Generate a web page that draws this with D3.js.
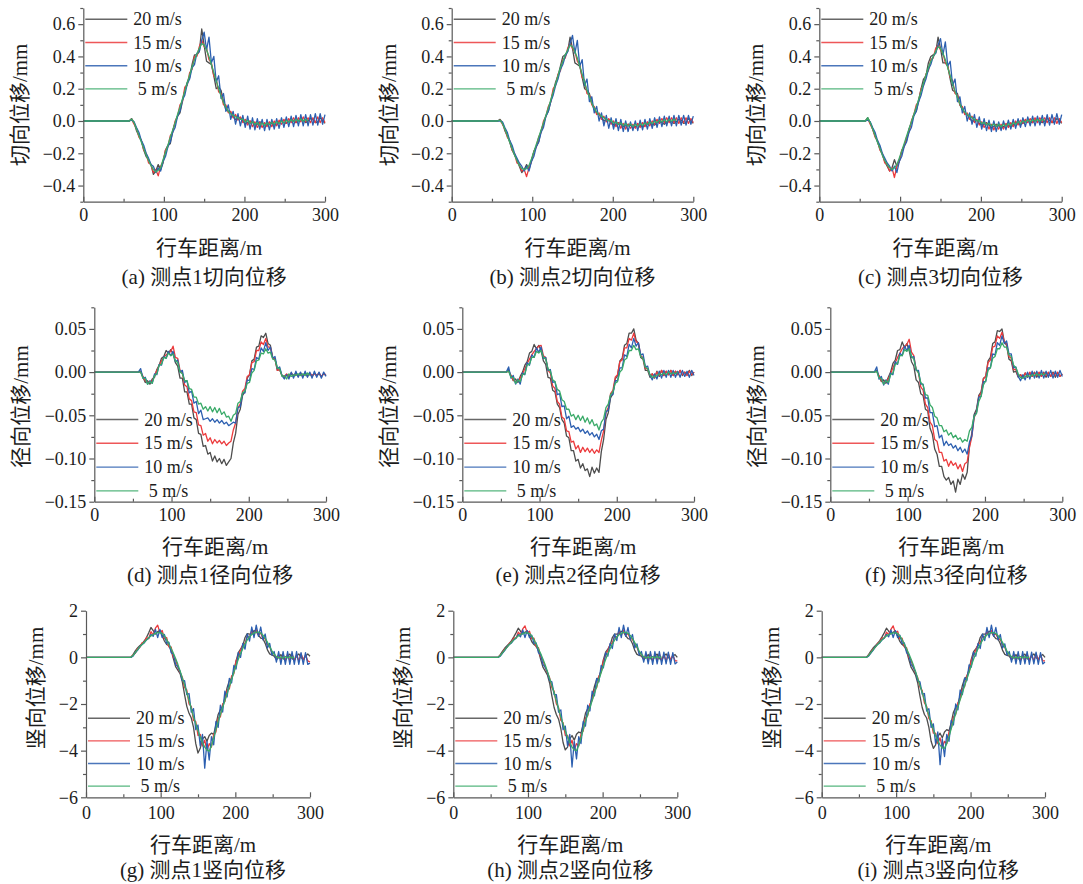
<!DOCTYPE html>
<html><head><meta charset="utf-8">
<script src="https://cdn.jsdelivr.net/npm/d3@7"></script>
<style>
body{margin:0;background:#fff;}
svg text{font-family:"Liberation Serif","Times New Roman","Noto Sans CJK SC",serif;fill:#1c1c1c;}
.tk text{font-size:18px;}
.lg{font-size:18px;white-space:pre;}
.ttl{font-size:21px;}
</style></head><body>
<svg id="c" width="1083" height="884"></svg>
<script>
// ---------------- data ----------------
const xs = [0,57,60,63,66,69,72,75,78,81,84,87,90,93,96,99,102,105,108,111,114,117,120,123,126,129,132,135,138,141,144,147,150,153,156,159,162,165,168,171,174,177,180,183,186,189,192,195,198,201,204,207,210,213,216,219,222,225,228,231,234,237,240,243,246,249,252,255,258,261,264,267,270,273,276,279,282,285,288,291,294,297,300];
const speeds = ["20 m/s","15 m/s","10 m/s"," 5 m/s"];
const xTicks = [0,100,200,300];
const xMinor = [50,150,250];
const tanTicks = [-0.4,-0.2,0,0.2,0.4,0.6];
const tanMinor = [-0.5,-0.3,-0.1,0.1,0.3,0.5,0.7];
const radTicks = [-0.15,-0.10,-0.05,0,0.05];
const radMinor = [-0.125,-0.075,-0.025,0.025,0.075];
const verTicks = [-6,-4,-2,0,2];
const verMinor = [-5,-3,-1,1];
const yTitles = ["切向位移/mm","径向位移/mm","竖向位移/mm"];
const xTitle = "行车距离/m";
const captions = ["(a) 测点1切向位移","(b) 测点2切向位移","(c) 测点3切向位移","(d) 测点1径向位移","(e) 测点2径向位移","(f) 测点3径向位移","(g) 测点1竖向位移","(h) 测点2竖向位移","(i) 测点3竖向位移"];

// (a) tangential, point 1
const a20 = [0,0,0.015,-0.01,-0.06,-0.09,-0.12,-0.18,-0.22,-0.24,-0.27,-0.33,-0.31,-0.27,-0.30,-0.26,-0.18,-0.15,-0.14,-0.06,-0.01,0.03,0.05,0.12,0.19,0.24,0.27,0.35,0.41,0.41,0.43,0.57,0.47,0.37,0.36,0.35,0.28,0.20,0.21,0.19,0.12,0.07,0.06,0.05,0.025,0.01,0.015,0.02,0.0,-0.015,-0.01,0.0,-0.01,-0.025,-0.02,-0.005,-0.01,-0.03,-0.025,-0.01,-0.015,-0.025,-0.02,-0.005,0.0,-0.01,-0.015,0.0,0.01,0.0,-0.01,0.005,0.015,0.005,-0.01,0.0,0.015,0.01,-0.01,-0.005,0.02,0.005,-0.015];
const a15 = [0,0,0.01,-0.02,-0.045,-0.10,-0.12,-0.18,-0.20,-0.26,-0.27,-0.32,-0.30,-0.34,-0.28,-0.25,-0.18,-0.16,-0.09,-0.07,0.0,0.03,0.10,0.12,0.21,0.22,0.30,0.32,0.40,0.40,0.46,0.50,0.46,0.45,0.38,0.36,0.28,0.26,0.18,0.17,0.10,0.10,0.05,0.06,0.02,0.04,0.005,0.025,-0.01,0.01,-0.025,0.0,-0.035,-0.005,-0.04,-0.01,-0.04,-0.01,-0.035,-0.005,-0.035,0.0,-0.03,0.005,-0.02,0.01,-0.015,0.015,-0.01,0.02,-0.01,0.02,-0.005,0.025,-0.005,0.02,-0.01,0.02,-0.01,0.025,-0.01,0.02,-0.01];
const a10 = [0,0,0.005,-0.005,-0.04,-0.07,-0.12,-0.15,-0.20,-0.23,-0.27,-0.28,-0.32,-0.29,-0.31,-0.25,-0.22,-0.16,-0.13,-0.07,-0.04,0.03,0.06,0.13,0.16,0.23,0.26,0.33,0.35,0.42,0.43,0.50,0.55,0.44,0.52,0.36,0.40,0.24,0.28,0.14,0.17,0.06,0.10,0.01,0.06,-0.02,0.045,-0.03,0.035,-0.04,0.03,-0.05,0.02,-0.055,0.015,-0.05,0.01,-0.06,0.01,-0.055,0.01,-0.05,0.015,-0.045,0.02,-0.04,0.025,-0.035,0.03,-0.035,0.035,-0.03,0.04,-0.03,0.04,-0.03,0.04,-0.025,0.045,-0.025,0.045,-0.02,0.04];
const a05 = [0,0,0.012,-0.01,-0.05,-0.09,-0.13,-0.17,-0.21,-0.245,-0.275,-0.30,-0.315,-0.305,-0.29,-0.24,-0.195,-0.15,-0.10,-0.055,-0.01,0.04,0.085,0.135,0.185,0.235,0.285,0.335,0.38,0.415,0.45,0.48,0.47,0.44,0.40,0.35,0.30,0.25,0.20,0.155,0.115,0.085,0.06,0.045,0.035,0.025,0.02,0.01,0.012,-0.006,0.004,-0.016,-0.004,-0.022,-0.01,-0.026,-0.012,-0.028,-0.012,-0.024,-0.008,-0.02,-0.004,-0.016,0.0,-0.012,0.004,-0.008,0.008,-0.004,0.01,-0.002,0.012,-0.002,0.01,0.0];
// (b)
const b20 = [0,0,0.01,-0.01,-0.06,-0.09,-0.13,-0.18,-0.21,-0.24,-0.28,-0.32,-0.30,-0.27,-0.30,-0.25,-0.19,-0.16,-0.13,-0.06,-0.02,0.03,0.06,0.12,0.18,0.24,0.28,0.34,0.40,0.41,0.43,0.52,0.45,0.36,0.35,0.34,0.27,0.20,0.19,0.17,0.11,0.07,0.05,0.04,0.02,0.0,0.005,0.01,-0.01,-0.025,-0.02,-0.01,-0.02,-0.035,-0.03,-0.02,-0.025,-0.04,-0.035,-0.02,-0.025,-0.035,-0.03,-0.015,-0.01,-0.02,-0.025,-0.01,0.0,-0.01,-0.02,-0.005,0.005,-0.005,-0.015,-0.005,0.01,0.005,-0.015,-0.01,0.015,0.0,-0.015];
const b15 = [0,0,0.005,-0.02,-0.05,-0.10,-0.12,-0.18,-0.20,-0.26,-0.27,-0.31,-0.30,-0.345,-0.29,-0.25,-0.19,-0.16,-0.10,-0.07,0.0,0.03,0.09,0.12,0.20,0.22,0.29,0.31,0.38,0.39,0.45,0.48,0.45,0.43,0.37,0.35,0.27,0.25,0.17,0.16,0.10,0.09,0.04,0.05,0.01,0.03,-0.005,0.015,-0.02,0.0,-0.035,-0.01,-0.045,-0.015,-0.05,-0.02,-0.045,-0.02,-0.045,-0.015,-0.04,-0.01,-0.035,-0.005,-0.03,0.0,-0.02,0.01,-0.015,0.015,-0.01,0.02,-0.01,0.02,-0.01,0.02,-0.015,0.02,-0.01,0.02,-0.015,0.015,-0.01];
const b10 = [0,0,0.0,-0.005,-0.04,-0.07,-0.12,-0.15,-0.20,-0.23,-0.26,-0.28,-0.31,-0.28,-0.31,-0.25,-0.22,-0.16,-0.13,-0.07,-0.04,0.03,0.06,0.12,0.16,0.22,0.26,0.32,0.35,0.40,0.43,0.48,0.53,0.42,0.50,0.34,0.38,0.22,0.26,0.12,0.15,0.05,0.09,0.0,0.05,-0.03,0.035,-0.045,0.02,-0.05,0.015,-0.06,0.01,-0.065,0.0,-0.065,-0.005,-0.06,0.0,-0.06,0.005,-0.055,0.01,-0.05,0.015,-0.045,0.02,-0.04,0.025,-0.035,0.03,-0.03,0.03,-0.03,0.035,-0.03,0.035,-0.025,0.035,-0.025,0.035,-0.02,0.03];
const b05 = [0,0,0.005,-0.015,-0.05,-0.09,-0.13,-0.17,-0.21,-0.245,-0.275,-0.295,-0.30,-0.295,-0.275,-0.235,-0.19,-0.145,-0.10,-0.055,-0.01,0.035,0.08,0.13,0.18,0.23,0.28,0.33,0.37,0.41,0.44,0.47,0.46,0.43,0.39,0.34,0.29,0.24,0.19,0.15,0.11,0.08,0.055,0.04,0.03,0.02,0.01,0.0,0.004,-0.014,-0.006,-0.022,-0.012,-0.028,-0.016,-0.032,-0.018,-0.034,-0.02,-0.032,-0.016,-0.028,-0.012,-0.022,-0.006,-0.016,-0.002,-0.01,0.004,-0.006,0.008,-0.004,0.01,-0.002,0.01,0.0];
// (c)
const c20 = [0,0,0.02,-0.01,-0.05,-0.09,-0.13,-0.17,-0.21,-0.25,-0.28,-0.31,-0.29,-0.24,-0.28,-0.25,-0.19,-0.15,-0.12,-0.05,-0.01,0.04,0.06,0.13,0.20,0.26,0.28,0.36,0.40,0.41,0.42,0.52,0.45,0.36,0.36,0.34,0.26,0.19,0.18,0.17,0.10,0.07,0.05,0.04,0.015,0.0,0.0,0.005,-0.015,-0.025,-0.02,-0.01,-0.025,-0.04,-0.035,-0.02,-0.03,-0.045,-0.035,-0.02,-0.025,-0.035,-0.025,-0.01,-0.01,-0.02,-0.015,0.0,0.005,-0.005,-0.01,0.005,0.01,0.0,-0.01,0.0,0.015,0.005,-0.01,-0.005,0.015,0.005,-0.015];
const c15 = [0,0,0.015,-0.02,-0.05,-0.10,-0.12,-0.18,-0.20,-0.26,-0.27,-0.31,-0.29,-0.35,-0.28,-0.25,-0.18,-0.16,-0.10,-0.07,0.0,0.04,0.10,0.12,0.20,0.22,0.29,0.31,0.38,0.39,0.45,0.47,0.44,0.42,0.36,0.34,0.27,0.25,0.17,0.16,0.10,0.09,0.04,0.05,0.01,0.03,-0.01,0.01,-0.025,-0.005,-0.04,-0.015,-0.05,-0.02,-0.055,-0.025,-0.05,-0.02,-0.05,-0.015,-0.04,-0.01,-0.035,0.0,-0.025,0.005,-0.015,0.01,-0.01,0.015,-0.01,0.02,-0.01,0.02,-0.005,0.02,-0.01,0.02,-0.01,0.02,-0.015,0.015,-0.01];
const c10 = [0,0,0.005,-0.005,-0.04,-0.07,-0.12,-0.15,-0.20,-0.23,-0.26,-0.28,-0.31,-0.28,-0.32,-0.25,-0.22,-0.16,-0.13,-0.07,-0.04,0.03,0.06,0.12,0.16,0.22,0.26,0.32,0.35,0.40,0.42,0.47,0.51,0.41,0.49,0.34,0.37,0.22,0.26,0.12,0.15,0.05,0.09,0.0,0.05,-0.02,0.04,-0.04,0.025,-0.05,0.015,-0.06,0.005,-0.065,0.0,-0.065,-0.005,-0.06,0.0,-0.055,0.005,-0.05,0.01,-0.045,0.015,-0.04,0.02,-0.035,0.025,-0.03,0.03,-0.03,0.03,-0.025,0.035,-0.03,0.04,-0.025,0.04,-0.02,0.045,-0.02,0.04];
const c05 = [0,0,0.02,-0.01,-0.05,-0.09,-0.13,-0.17,-0.21,-0.245,-0.27,-0.29,-0.30,-0.29,-0.27,-0.23,-0.185,-0.14,-0.095,-0.05,-0.005,0.04,0.085,0.135,0.185,0.235,0.285,0.33,0.37,0.40,0.43,0.46,0.45,0.42,0.38,0.33,0.28,0.23,0.185,0.145,0.105,0.075,0.055,0.04,0.03,0.02,0.01,0.0,0.002,-0.016,-0.008,-0.024,-0.014,-0.03,-0.018,-0.034,-0.02,-0.036,-0.02,-0.032,-0.016,-0.028,-0.01,-0.02,-0.004,-0.014,0.0,-0.008,0.006,-0.004,0.008,-0.002,0.01,0.0,0.01,0.002];
// (d) radial, point 1
const d20 = [0,0,0.001,-0.006,-0.012,-0.01,-0.014,-0.008,-0.006,0.003,0.008,0.016,0.018,0.025,0.022,0.026,0.021,0.011,0.007,-0.007,-0.007,-0.023,-0.023,-0.037,-0.037,-0.053,-0.055,-0.071,-0.072,-0.086,-0.085,-0.095,-0.093,-0.103,-0.097,-0.104,-0.1,-0.106,-0.101,-0.108,-0.104,-0.1,-0.082,-0.071,-0.049,-0.043,-0.027,-0.023,-0.007,-0.003,0.013,0.015,0.029,0.03,0.042,0.04,0.045,0.033,0.031,0.017,0.015,0.002,0.003,-0.004,-0.006,-0.003,-0.006,-0.002,-0.005,-0.001,-0.004,-0.002,-0.005,-0.001,-0.004,-0.002,-0.005,-0.001,-0.004,-0.002,-0.005,-0.002,-0.004];
const d15 = [0,0,0.0,-0.005,-0.01,-0.012,-0.011,-0.01,-0.004,0.002,0.008,0.013,0.017,0.02,0.022,0.024,0.03,0.017,0.016,0.002,-0.001,-0.015,-0.017,-0.031,-0.033,-0.046,-0.047,-0.061,-0.062,-0.073,-0.071,-0.08,-0.076,-0.083,-0.078,-0.082,-0.079,-0.083,-0.08,-0.085,-0.082,-0.08,-0.067,-0.059,-0.041,-0.037,-0.022,-0.019,-0.005,-0.003,0.011,0.012,0.025,0.025,0.035,0.032,0.039,0.029,0.029,0.016,0.015,0.002,0.003,-0.004,-0.005,-0.002,-0.005,-0.001,-0.004,-0.002,-0.005,-0.001,-0.004,-0.002,-0.005,-0.001,-0.004,-0.002,-0.004,-0.001,-0.005,-0.002,-0.003];
const d10 = [0,0,0.004,-0.007,-0.006,-0.014,-0.01,-0.013,-0.002,-0.003,0.009,0.008,0.018,0.016,0.024,0.019,0.024,0.012,0.014,0.0,0.002,-0.012,-0.01,-0.024,-0.022,-0.036,-0.034,-0.048,-0.044,-0.055,-0.054,-0.053,-0.057,-0.054,-0.058,-0.055,-0.059,-0.056,-0.06,-0.058,-0.062,-0.06,-0.058,-0.059,-0.041,-0.04,-0.024,-0.024,-0.009,-0.01,0.004,0.003,0.017,0.015,0.028,0.024,0.034,0.025,0.029,0.016,0.018,0.004,0.006,-0.004,-0.008,-0.003,-0.008,0.0,-0.007,0.001,-0.006,0.0,-0.007,0.001,-0.006,0.0,-0.007,0.001,-0.006,0.0,-0.007,0.0,-0.005];
const d05 = [0,0,0.0,-0.007,-0.007,-0.014,-0.011,-0.013,-0.004,-0.002,0.008,0.009,0.017,0.016,0.022,0.019,0.021,0.013,0.011,0.0,-0.002,-0.01,-0.01,-0.019,-0.02,-0.029,-0.029,-0.037,-0.036,-0.043,-0.04,-0.045,-0.04,-0.046,-0.041,-0.047,-0.042,-0.049,-0.046,-0.052,-0.051,-0.057,-0.05,-0.048,-0.036,-0.034,-0.024,-0.022,-0.013,-0.012,-0.001,0.002,0.013,0.014,0.022,0.021,0.027,0.022,0.023,0.015,0.014,0.005,0.004,-0.005,-0.004,-0.008,-0.002,-0.005,-0.003,-0.004,-0.002,-0.004,-0.002,-0.004,-0.001,-0.004];
// (e)
const e20 = [0,0,0.002,-0.004,-0.01,-0.008,-0.012,-0.005,0.0,0.008,0.012,0.022,0.024,0.032,0.027,0.031,0.025,0.013,0.009,-0.006,-0.007,-0.021,-0.023,-0.037,-0.041,-0.055,-0.059,-0.074,-0.076,-0.091,-0.091,-0.103,-0.101,-0.111,-0.106,-0.114,-0.112,-0.121,-0.11,-0.117,-0.111,-0.116,-0.092,-0.078,-0.055,-0.047,-0.03,-0.025,-0.008,-0.004,0.013,0.016,0.031,0.033,0.045,0.045,0.05,0.037,0.033,0.017,0.015,0.002,0.002,-0.006,-0.002,-0.007,0.001,-0.005,0.002,-0.004,0.001,-0.003,0.002,-0.004,0.001,-0.003,0.002,-0.004,0.0,-0.003,0.002,-0.004,0.0];
const e15 = [0,0,0.001,-0.004,-0.009,-0.011,-0.01,-0.007,-0.002,0.004,0.01,0.015,0.02,0.024,0.027,0.03,0.031,0.019,0.017,0.002,-0.001,-0.016,-0.019,-0.034,-0.037,-0.052,-0.054,-0.068,-0.069,-0.081,-0.08,-0.089,-0.085,-0.093,-0.087,-0.092,-0.088,-0.093,-0.089,-0.094,-0.09,-0.093,-0.079,-0.068,-0.047,-0.041,-0.025,-0.021,-0.006,-0.003,0.012,0.014,0.028,0.028,0.039,0.037,0.045,0.035,0.034,0.019,0.017,0.004,0.004,-0.004,-0.002,-0.006,0.0,-0.004,0.002,-0.004,0.001,-0.003,0.002,-0.004,0.001,-0.003,0.002,-0.003,0.0,-0.004,0.001,-0.003,0.0];
const e10 = [0,0,0.006,-0.007,-0.004,-0.014,-0.008,-0.014,-0.001,-0.003,0.011,0.008,0.02,0.017,0.028,0.023,0.029,0.016,0.017,0.002,0.003,-0.012,-0.011,-0.026,-0.025,-0.04,-0.039,-0.054,-0.051,-0.064,-0.062,-0.066,-0.064,-0.069,-0.066,-0.071,-0.068,-0.073,-0.07,-0.075,-0.072,-0.078,-0.068,-0.066,-0.046,-0.044,-0.027,-0.026,-0.01,-0.01,0.005,0.005,0.02,0.018,0.032,0.028,0.039,0.03,0.034,0.02,0.021,0.006,0.007,-0.004,-0.009,-0.002,-0.008,0.001,-0.007,0.002,-0.006,0.002,-0.006,0.002,-0.006,0.001,-0.006,0.002,-0.005,0.001,-0.006,0.002,-0.004];
const e05 = [0,0,0.001,-0.006,-0.006,-0.013,-0.009,-0.011,-0.003,-0.002,0.008,0.009,0.017,0.017,0.024,0.022,0.025,0.017,0.015,0.004,0.001,-0.009,-0.011,-0.02,-0.022,-0.032,-0.034,-0.043,-0.043,-0.051,-0.049,-0.055,-0.05,-0.056,-0.051,-0.058,-0.053,-0.06,-0.055,-0.062,-0.06,-0.067,-0.058,-0.054,-0.041,-0.037,-0.026,-0.023,-0.013,-0.011,0.0,0.003,0.014,0.016,0.025,0.025,0.031,0.026,0.027,0.018,0.016,0.006,0.004,-0.003,-0.006,-0.005,-0.004,-0.002,-0.003,-0.001,-0.003,0.0,-0.002,-0.001,-0.002,0.0];
// (f)
const f20 = [0,0,0.002,-0.005,-0.011,-0.009,-0.013,-0.006,0.0,0.01,0.014,0.025,0.026,0.035,0.028,0.033,0.025,0.012,0.007,-0.009,-0.012,-0.025,-0.027,-0.043,-0.045,-0.065,-0.072,-0.089,-0.095,-0.109,-0.109,-0.121,-0.125,-0.122,-0.13,-0.126,-0.139,-0.124,-0.13,-0.118,-0.124,-0.116,-0.085,-0.071,-0.049,-0.043,-0.027,-0.023,-0.007,-0.005,0.013,0.017,0.033,0.035,0.048,0.047,0.05,0.035,0.031,0.015,0.013,0.0,0.001,-0.006,-0.003,-0.007,-0.001,-0.006,-0.001,-0.005,0.0,-0.006,-0.001,-0.005,0.0,-0.006,-0.001,-0.005,0.0,-0.006,-0.001,-0.005,-0.002];
const f15 = [0,0,0.001,-0.004,-0.01,-0.012,-0.011,-0.008,-0.002,0.005,0.011,0.017,0.022,0.027,0.03,0.032,0.038,0.023,0.019,0.003,-0.001,-0.017,-0.021,-0.037,-0.041,-0.058,-0.062,-0.078,-0.08,-0.093,-0.093,-0.103,-0.101,-0.109,-0.103,-0.108,-0.105,-0.112,-0.107,-0.115,-0.106,-0.104,-0.087,-0.075,-0.053,-0.046,-0.029,-0.024,-0.008,-0.005,0.011,0.014,0.029,0.03,0.042,0.039,0.046,0.035,0.033,0.018,0.016,0.003,0.003,-0.005,-0.003,-0.006,-0.001,-0.005,0.0,-0.005,-0.001,-0.004,0.0,-0.005,-0.001,-0.004,0.0,-0.005,-0.001,-0.004,0.0,-0.005,-0.002];
const f10 = [0,0,0.006,-0.008,-0.005,-0.015,-0.009,-0.014,-0.001,-0.003,0.012,0.009,0.022,0.019,0.03,0.025,0.031,0.017,0.018,0.002,0.002,-0.014,-0.014,-0.03,-0.03,-0.047,-0.047,-0.063,-0.062,-0.076,-0.073,-0.085,-0.08,-0.085,-0.083,-0.088,-0.085,-0.091,-0.087,-0.093,-0.089,-0.095,-0.081,-0.074,-0.051,-0.047,-0.029,-0.028,-0.011,-0.011,0.005,0.005,0.021,0.02,0.034,0.031,0.042,0.033,0.036,0.021,0.021,0.005,0.006,-0.005,-0.01,-0.003,-0.009,0.0,-0.008,0.001,-0.007,0.001,-0.007,0.002,-0.007,0.001,-0.006,0.002,-0.007,0.001,-0.006,0.002,-0.005];
const f05 = [0,0,0.001,-0.007,-0.007,-0.014,-0.01,-0.012,-0.003,-0.001,0.009,0.01,0.019,0.019,0.026,0.024,0.027,0.018,0.015,0.003,-0.001,-0.012,-0.015,-0.026,-0.027,-0.038,-0.041,-0.051,-0.053,-0.062,-0.062,-0.069,-0.067,-0.073,-0.07,-0.076,-0.073,-0.078,-0.076,-0.081,-0.078,-0.08,-0.068,-0.064,-0.051,-0.048,-0.034,-0.028,-0.015,-0.01,0.002,0.005,0.016,0.018,0.027,0.027,0.034,0.029,0.029,0.02,0.018,0.008,0.005,-0.002,-0.006,-0.007,-0.005,-0.004,-0.005,-0.003,-0.004,-0.002,-0.004,-0.002,-0.003,-0.002];
// (g) vertical, point 1
const g20 = [0,0,0.0,0.12,0.28,0.4,0.5,0.58,0.7,0.85,1.05,1.28,1.15,1.0,1.1,1.15,0.95,0.7,0.55,0.5,0.3,-0.05,-0.4,-0.55,-0.7,-1.05,-1.6,-2.1,-2.4,-2.6,-3.0,-3.7,-4.1,-3.9,-3.5,-3.4,-3.6,-3.35,-3.25,-3.3,-2.9,-2.45,-2.25,-2.1,-1.75,-1.3,-1.0,-0.9,-0.6,-0.15,0.2,0.35,0.5,0.85,1.02,1.0,1.0,1.15,1.1,0.95,0.82,0.8,0.6,0.32,0.15,0.1,0.05,-0.1,0.0,0.12,-0.05,-0.12,0.05,0.14,-0.05,-0.12,0.05,0.15,0.0,-0.1,0.05,0.15,0.05];
const g15 = [0,0,0.0,0.1,0.18,0.38,0.42,0.62,0.65,0.85,0.8,1.1,0.95,1.25,1.38,1.05,1.15,0.8,0.85,0.45,0.45,0.0,-0.1,-0.4,-0.65,-0.85,-1.3,-1.4,-2.0,-2.1,-2.7,-2.75,-3.35,-3.3,-3.8,-3.55,-4.0,-3.7,-3.85,-3.3,-3.2,-2.6,-2.55,-2.0,-1.9,-1.4,-1.35,-0.8,-0.7,-0.15,0.05,0.3,0.55,0.6,0.9,0.85,1.15,0.95,1.2,0.95,1.05,0.8,0.8,0.55,0.45,0.2,0.15,-0.05,0.1,-0.1,0.15,-0.15,0.15,-0.15,0.15,-0.15,0.1,-0.15,0.15,-0.1,0.1,-0.15,-0.2];
const g10 = [0,0,0.0,0.05,0.2,0.3,0.45,0.55,0.62,0.75,0.82,0.98,0.9,1.2,0.85,1.2,0.85,0.98,0.6,0.65,0.2,0.15,-0.3,-0.4,-0.6,-1.0,-1.0,-1.6,-1.55,-2.35,-2.2,-3.1,-2.9,-3.8,-3.3,-4.75,-3.6,-4.4,-3.4,-3.75,-2.75,-3.0,-2.05,-2.35,-1.45,-1.7,-0.9,-1.1,-0.35,-0.5,0.2,0.0,0.6,0.35,1.0,0.7,1.3,0.85,1.38,0.9,1.3,0.75,1.0,0.4,0.6,0.1,0.25,-0.2,0.25,-0.3,0.25,-0.3,0.25,-0.3,0.25,-0.3,0.25,-0.3,0.2,-0.3,0.2,-0.3,-0.25];
const g05 = [0,0,0.0,0.08,0.2,0.33,0.45,0.55,0.65,0.75,0.84,0.92,0.98,1.03,1.06,1.06,1.03,0.93,0.76,0.57,0.38,0.18,-0.05,-0.3,-0.58,-0.88,-1.18,-1.5,-1.85,-2.2,-2.55,-2.85,-3.15,-3.42,-3.65,-3.85,-3.98,-4.02,-3.8,-3.45,-3.1,-2.75,-2.45,-2.15,-1.85,-1.55,-1.25,-0.95,-0.65,-0.35,-0.08,0.17,0.38,0.58,0.75,0.88,0.98,1.04,1.08,1.08,1.04,0.95,0.82,0.65,0.46,0.28,0.13,0.03,-0.02,0.02,-0.03,0.03,-0.02,0.03,-0.02,0.02];
// (h)
const h20 = [0,0,0.0,0.12,0.27,0.4,0.5,0.6,0.72,0.88,1.05,1.25,1.12,1.0,1.08,1.12,0.92,0.68,0.55,0.48,0.28,-0.08,-0.42,-0.58,-0.75,-1.1,-1.65,-2.15,-2.45,-2.65,-3.05,-3.65,-3.97,-3.85,-3.5,-3.35,-3.55,-3.3,-3.2,-3.25,-2.85,-2.4,-2.2,-2.05,-1.7,-1.25,-0.95,-0.85,-0.55,-0.1,0.22,0.35,0.52,0.85,1.0,1.0,1.02,1.12,1.08,0.92,0.8,0.78,0.58,0.3,0.13,0.08,0.05,-0.1,0.0,0.12,-0.05,-0.12,0.05,0.14,-0.05,-0.12,0.05,0.15,0.0,-0.1,0.05,0.12,0.0];
const h15 = [0,0,0.0,0.1,0.2,0.36,0.43,0.6,0.66,0.83,0.82,1.08,0.97,1.22,1.35,1.05,1.12,0.8,0.82,0.45,0.42,0.0,-0.12,-0.42,-0.66,-0.88,-1.3,-1.45,-2.0,-2.15,-2.7,-2.8,-3.35,-3.35,-3.8,-3.55,-3.95,-3.7,-3.8,-3.3,-3.15,-2.6,-2.5,-2.0,-1.85,-1.4,-1.3,-0.8,-0.65,-0.15,0.08,0.3,0.55,0.62,0.9,0.85,1.12,0.95,1.18,0.95,1.02,0.8,0.78,0.55,0.42,0.2,0.12,-0.05,0.1,-0.12,0.15,-0.15,0.12,-0.15,0.15,-0.12,0.1,-0.15,0.15,-0.1,0.1,-0.15,-0.15];
const h10 = [0,0,0.0,0.05,0.18,0.3,0.45,0.55,0.62,0.75,0.82,0.98,0.88,1.18,0.85,1.15,0.85,0.95,0.6,0.62,0.2,0.12,-0.3,-0.42,-0.62,-1.0,-1.05,-1.6,-1.6,-2.35,-2.25,-3.1,-2.95,-3.8,-3.3,-4.7,-3.6,-4.35,-3.4,-3.7,-2.75,-2.95,-2.05,-2.3,-1.45,-1.65,-0.9,-1.05,-0.35,-0.45,0.2,0.05,0.6,0.38,1.0,0.72,1.28,0.85,1.38,0.9,1.28,0.75,0.98,0.4,0.58,0.1,0.25,-0.2,0.25,-0.28,0.25,-0.3,0.25,-0.28,0.25,-0.3,0.22,-0.28,0.22,-0.3,0.2,-0.28,-0.2];
const h05 = [0,0,0.0,0.08,0.2,0.32,0.44,0.55,0.65,0.75,0.84,0.92,0.98,1.02,1.05,1.05,1.02,0.92,0.76,0.57,0.37,0.16,-0.07,-0.32,-0.6,-0.9,-1.2,-1.52,-1.86,-2.2,-2.55,-2.85,-3.15,-3.42,-3.65,-3.85,-3.97,-4.0,-3.78,-3.45,-3.1,-2.75,-2.45,-2.15,-1.85,-1.55,-1.25,-0.95,-0.66,-0.36,-0.09,0.16,0.37,0.57,0.74,0.87,0.97,1.03,1.07,1.07,1.03,0.94,0.8,0.63,0.45,0.27,0.12,0.03,-0.03,0.02,-0.03,0.03,-0.02,0.03,-0.02,0.02];
// (i)
const i20 = [0,0,0.0,0.12,0.27,0.4,0.5,0.6,0.72,0.88,1.05,1.25,1.12,1.0,1.08,1.12,0.92,0.68,0.55,0.48,0.28,-0.08,-0.42,-0.58,-0.75,-1.1,-1.65,-2.15,-2.45,-2.6,-3.0,-3.6,-3.9,-3.75,-3.4,-3.25,-3.45,-3.2,-3.1,-3.15,-2.8,-2.35,-2.15,-2.0,-1.65,-1.2,-0.92,-0.82,-0.52,-0.08,0.24,0.36,0.52,0.85,1.0,1.0,1.02,1.12,1.08,0.92,0.8,0.78,0.58,0.3,0.13,0.08,0.05,-0.1,0.0,0.12,-0.05,-0.12,0.05,0.14,-0.05,-0.12,0.05,0.15,0.0,-0.1,0.05,0.12,0.0];
const i15 = [0,0,0.0,0.1,0.2,0.36,0.43,0.6,0.66,0.83,0.82,1.08,0.97,1.2,1.35,1.05,1.12,0.8,0.82,0.45,0.42,0.0,-0.12,-0.42,-0.66,-0.88,-1.28,-1.42,-1.95,-2.1,-2.62,-2.72,-3.25,-3.25,-3.7,-3.45,-3.85,-3.6,-3.7,-3.2,-3.05,-2.55,-2.45,-1.95,-1.8,-1.35,-1.25,-0.78,-0.62,-0.12,0.1,0.32,0.56,0.63,0.9,0.85,1.12,0.95,1.15,0.95,1.0,0.8,0.76,0.55,0.42,0.2,0.12,-0.05,0.1,-0.12,0.15,-0.15,0.12,-0.15,0.15,-0.12,0.1,-0.15,0.15,-0.1,0.1,-0.15,-0.15];
const i10 = [0,0,0.0,0.05,0.18,0.3,0.45,0.55,0.62,0.75,0.82,0.98,0.88,1.18,0.85,1.15,0.85,0.95,0.6,0.62,0.2,0.12,-0.3,-0.42,-0.62,-1.0,-1.05,-1.58,-1.55,-2.3,-2.2,-3.0,-2.85,-3.7,-3.2,-4.6,-3.5,-4.25,-3.3,-3.6,-2.7,-2.9,-2.0,-2.25,-1.4,-1.6,-0.88,-1.0,-0.32,-0.42,0.22,0.05,0.6,0.38,1.0,0.72,1.28,0.85,1.38,0.9,1.28,0.75,0.98,0.4,0.58,0.1,0.25,-0.2,0.25,-0.28,0.25,-0.3,0.25,-0.28,0.25,-0.3,0.22,-0.28,0.22,-0.3,0.2,-0.28,-0.2];
const i05 = [0,0,0.0,0.08,0.2,0.32,0.44,0.55,0.65,0.75,0.84,0.92,0.98,1.02,1.05,1.05,1.02,0.92,0.76,0.57,0.37,0.16,-0.07,-0.32,-0.6,-0.9,-1.2,-1.5,-1.83,-2.16,-2.5,-2.8,-3.1,-3.36,-3.58,-3.76,-3.88,-3.9,-3.7,-3.4,-3.06,-2.72,-2.42,-2.12,-1.82,-1.52,-1.22,-0.93,-0.64,-0.35,-0.08,0.16,0.37,0.56,0.73,0.86,0.96,1.02,1.06,1.06,1.02,0.93,0.8,0.63,0.45,0.27,0.12,0.03,-0.03,0.02,-0.03,0.03,-0.02,0.03,-0.02,0.02];

// ---------------- layout / style ----------------
const colors = ["#4d4d4d","#ec3a3c","#2c5fb0","#39aa68"];
const rows = [
  {dom:[-0.5,0.7], ticks:tanTicks, minor:tanMinor, fmt:".1f", ylab:yTitles[0], y0:8, y1:201.7,
   cols:[[83.3,325],[451.7,693.3],[819.3,1061.7]], legY:19.3, legDy:23.2, yOff:63, yMid:0, tickPad:10, xtY:46.3, capY:75.3, capDx:0},
  {dom:[-0.15,0.075], ticks:radTicks, minor:radMinor, fmt:".2f", ylab:yTitles[1], y0:307.3, y1:501.7,
   cols:[[94.3,326],[462.3,694],[830.3,1062.3]], legY:419.5, legDy:23.8, yOff:73.5, yMid:2, tickPad:10, xtY:45, capY:73.3, capDx:0},
  {dom:[-6,2], ticks:verTicks, minor:verMinor, fmt:"d", ylab:yTitles[2], y0:610.7, y1:797.3,
   cols:[[86,310],[453.3,677.3],[821.7,1045]], legY:718.3, legDy:22.6, yOff:50, yMid:-16, tickPad:12.5, xtY:47.7, capY:72.7, capDx:5}
];
const seriesByPanel = [
  [a20,a15,a10,a05],[b20,b15,b10,b05],[c20,c15,c10,c05],
  [d20,d15,d10,d05],[e20,e15,e10,e05],[f20,f15,f10,f05],
  [g20,g15,g10,g05],[h20,h15,h10,h05],[i20,i15,i10,i05]
];

const svg = d3.select("#c");
svg.append("rect").attr("width",1083).attr("height",884).attr("fill","#fff");

rows.forEach((r,ri)=>{
  r.cols.forEach((c,ci)=>{
    const pi = ri*3+ci;
    const [x0,x1] = c;
    const x = d3.scaleLinear().domain([0,300]).range([x0,x1]);
    const y = d3.scaleLinear().domain(r.dom).range([r.y1,r.y0]);
    const g = svg.append("g");

    const line = d3.line()
      .defined((d,i)=> i < xs.length && d != null)
      .x((d,i)=> x(xs[i])).y(d=> y(d));
    seriesByPanel[pi].forEach((s,k)=>{
      g.append("path").attr("d", line(s)).attr("fill","none")
        .attr("stroke", colors[k]).attr("stroke-width",1.3)
        .attr("stroke-linejoin","round");
    });

    const ya = g.append("g").attr("class","tk").attr("transform",`translate(${x0},0)`)
      .call(d3.axisLeft(y).tickValues(r.ticks).tickFormat(d3.format(r.fmt)).tickSize(5).tickSizeOuter(0).tickPadding(3));
    const ym = g.append("g").attr("transform",`translate(${x0},0)`)
      .call(d3.axisLeft(y).tickValues(r.minor).tickFormat("").tickSize(3));
    ym.select(".domain").remove();
    const xa = g.append("g").attr("class","tk").attr("transform",`translate(0,${r.y1})`)
      .call(d3.axisBottom(x).tickValues(xTicks).tickFormat(d3.format("d")).tickSize(-5).tickSizeOuter(0).tickPadding(r.tickPad));
    const xm = g.append("g").attr("transform",`translate(0,${r.y1})`)
      .call(d3.axisBottom(x).tickValues(xMinor).tickFormat("").tickSize(-3));
    xm.select(".domain").remove();
    [ya,ym,xa,xm].forEach(a=>{
      a.attr("font-family",null).attr("font-size",null);
      a.selectAll("path,line").attr("stroke","#595959").attr("stroke-width",1.2);
      a.selectAll("text").attr("fill","#1c1c1c");
    });
    xa.selectAll("text").attr("dy","0.5em");

    speeds.forEach((sp,k)=>{
      const ly = r.legY + k*r.legDy;
      g.append("line").attr("x1",x0+2).attr("x2",x0+44).attr("y1",ly).attr("y2",ly)
        .attr("stroke",colors[k]).attr("stroke-width",1.4).attr("opacity",0.85);
      g.append("text").attr("class","lg").attr("x",x0+50).attr("y",ly)
        .attr("dominant-baseline","central").text(sp);
    });

    const cx = (x0+x1)/2;
    g.append("text").attr("class","ttl").attr("text-anchor","middle").attr("dominant-baseline","central")
      .attr("x",cx+5).attr("y",r.y1+r.xtY).text(xTitle);
    g.append("text").attr("class","ttl").attr("text-anchor","middle").attr("dominant-baseline","central")
      .attr("x",cx+r.capDx).attr("y",r.y1+r.capY).text(captions[pi]);
    const yc = (r.y0+r.y1)/2 + r.yMid;
    g.append("text").attr("class","ttl").attr("text-anchor","middle").attr("dominant-baseline","central")
      .attr("transform",`translate(${x0-r.yOff},${yc}) rotate(-90)`).text(r.ylab);
  });
});
</script>
</body></html>
